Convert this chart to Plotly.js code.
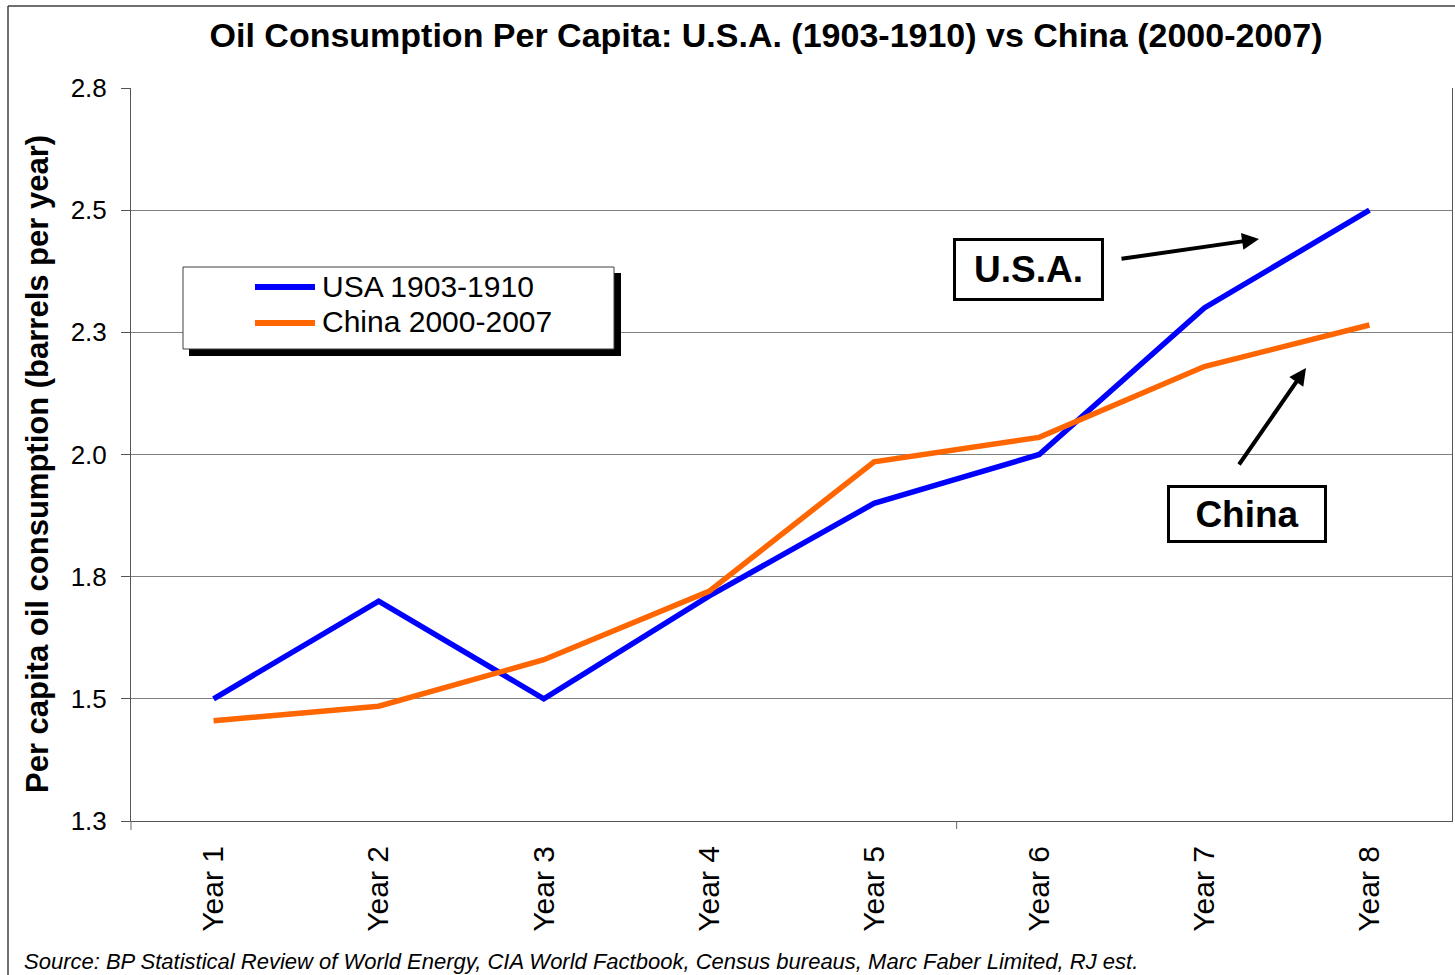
<!DOCTYPE html>
<html><head><meta charset="utf-8">
<script src="https://cdn.plot.ly/plotly-3.0.1.min.js"></script>
<style>html,body{margin:0;padding:0;background:#fff}#chart{width:1455px;height:975px}</style>
</head><body><div id="chart"></div>
<script>
// ---- data ----
const categories = ['Year 1','Year 2','Year 3','Year 4','Year 5','Year 6','Year 7','Year 8'];
const usaValues = [1.50, 1.70, 1.50, 1.71, 1.90, 2.00, 2.30, 2.50];
const chinaValues = [1.455, 1.485, 1.58, 1.72, 1.985, 2.035, 2.18, 2.265];
const seriesNames = ['USA 1903-1910', 'China 2000-2007'];
const yTickVals = [1.25, 1.5, 1.75, 2.0, 2.25, 2.5, 2.75];
const yTickText = ['1.3', '1.5', '1.8', '2.0', '2.3', '2.5', '2.8'];
const titleText = 'Oil Consumption Per Capita: U.S.A. (1903-1910) vs China (2000-2007)';
const yTitleText = 'Per capita oil consumption (barrels per year)';
const sourceText = 'Source: BP Statistical Review of World Energy, CIA World Factbook, Census bureaus, Marc Faber Limited, RJ est.';
const calloutLabels = ['U.S.A.', 'China'];

// ---- styling / layout helpers ----
const colors = ['#0000FF', '#FF6600'];
const FONT = 'Liberation Sans, Arial, Helvetica, sans-serif';
const L = 131, T = 88, R = 1452, B = 821;
const W = R - L, H = B - T;
const px = x => (x - L) / W;
const py = y => (B - y) / H;

const traces = [usaValues, chinaValues].map((vals, i) => ({
  type: 'scatter', mode: 'lines', x: categories, y: vals, name: seriesNames[i],
  line: {color: colors[i], width: 5.5}, showlegend: false, hoverinfo: 'skip'
}));

const shapes = [
  // chart frame
  {type:'line', xref:'paper', yref:'paper', x0:px(8), x1:px(8), y0:py(6), y1:py(985), line:{color:'#404040', width:1.5}},
  {type:'line', xref:'paper', yref:'paper', x0:px(8), x1:px(1465), y0:py(6), y1:py(6), line:{color:'#404040', width:1.5}},
  // single category tick and axis extension
  {type:'line', xref:'x', yref:'paper', x0:4.5, x1:4.5, y0:0, y1:py(829), line:{color:'#666', width:1}},
  {type:'line', xref:'paper', yref:'paper', x0:0, x1:0, y0:0, y1:py(830), line:{color:'#666', width:1}},
  // legend shadow + box
  {type:'rect', xref:'paper', yref:'paper', x0:px(189), x1:px(621), y0:py(273), y1:py(356), fillcolor:'#000', line:{width:0}},
  {type:'rect', xref:'paper', yref:'paper', x0:px(183), x1:px(614), y0:py(267), y1:py(349), fillcolor:'#fff', line:{color:'#404040', width:1}},
  // legend keys
  {type:'line', xref:'paper', yref:'paper', x0:px(255), x1:px(315), y0:py(287), y1:py(287), line:{color:colors[0], width:6}},
  {type:'line', xref:'paper', yref:'paper', x0:px(255), x1:px(315), y0:py(323), y1:py(323), line:{color:colors[1], width:6}}
];

const annotations = [
  {text: yTitleText, textangle: -90, xref:'paper', yref:'paper', x:px(37), y:py(464), xanchor:'center', yanchor:'middle', showarrow:false,
   font:{family:FONT, size:31, color:'#000', weight:'bold'}},
  {text: sourceText, xref:'paper', yref:'paper', x:px(22), y:py(961), xanchor:'left', yanchor:'middle', showarrow:false,
   font:{family:FONT, size:22, color:'#000', style:'italic'}},
  {text: seriesNames[0], xref:'paper', yref:'paper', x:px(320), y:py(286), xanchor:'left', yanchor:'middle', showarrow:false,
   font:{family:FONT, size:30, color:'#000'}},
  {text: seriesNames[1], xref:'paper', yref:'paper', x:px(320), y:py(321), xanchor:'left', yanchor:'middle', showarrow:false,
   font:{family:FONT, size:30, color:'#000'}},
  {text: calloutLabels[0], xref:'paper', yref:'paper', x:px(1028), y:py(269.5), xanchor:'center', yanchor:'middle', showarrow:false,
   width:145, height:57, bordercolor:'#000', borderwidth:3, borderpad:0, bgcolor:'#fff',
   font:{family:FONT, size:37, color:'#000', weight:'bold'}},
  {text: calloutLabels[1], xref:'paper', yref:'paper', x:px(1246.5), y:py(514), xanchor:'center', yanchor:'middle', showarrow:false,
   width:154, height:52, bordercolor:'#000', borderwidth:3, borderpad:0, bgcolor:'#fff',
   font:{family:FONT, size:37, color:'#000', weight:'bold'}},
  {text:'', xref:'paper', yref:'paper', x:px(1259), y:py(239), ax:-139, ay:20, showarrow:true,
   arrowhead:2, arrowsize:0.85, arrowwidth:4, arrowcolor:'#000', standoff:0, startstandoff:0},
  {text:'', xref:'paper', yref:'paper', x:px(1306), y:py(368), ax:-68, ay:98, showarrow:true,
   arrowhead:2, arrowsize:0.85, arrowwidth:4, arrowcolor:'#000', standoff:0, startstandoff:0}
];

const layout = {
  width: 1455, height: 975,
  margin: {l: L, r: 1455 - R, t: T, b: 975 - B, pad: 0},
  paper_bgcolor: '#fff', plot_bgcolor: '#fff',
  font: {family: FONT, color: '#000'},
  title: {text: titleText, font: {family: FONT, size: 34, color: '#000', weight: 'bold'},
          x: 766 / 1455, xref: 'container', xanchor: 'center', y: 1 - 35 / 975, yref: 'container', yanchor: 'middle'},
  xaxis: {type: 'category', categoryorder: 'array', categoryarray: categories, range: [-0.5, 7.5],
          showgrid: false, zeroline: false, showline: true, linecolor: '#555', linewidth: 1,
          ticks: '', tickangle: -90, tickfont: {family: FONT, size: 30, color: '#000'}, ticklabelstandoff: 12},
  yaxis: {range: [1.25, 2.75], tickmode: 'array', tickvals: yTickVals, ticktext: yTickText,
          showgrid: true, gridcolor: '#808080', gridwidth: 1, zeroline: false,
          showline: true, mirror: true, linecolor: '#555', linewidth: 1,
          ticks: 'outside', ticklen: 9, tickcolor: '#555', tickwidth: 1,
          tickfont: {family: FONT, size: 26, color: '#000'}, ticklabelstandoff: 9},
  shapes: shapes,
  annotations: annotations,
  showlegend: false
};

Plotly.newPlot('chart', traces, layout, {staticPlot: true, displayModeBar: false});
</script>
</body></html>
